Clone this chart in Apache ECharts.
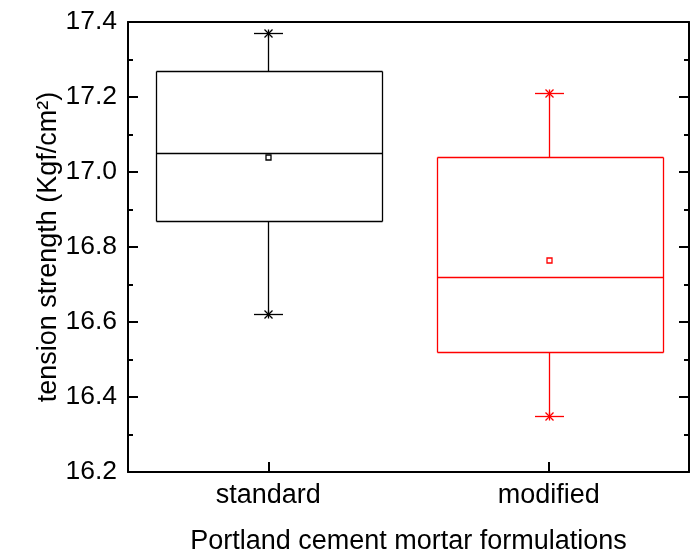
<!DOCTYPE html>
<html>
<head>
<meta charset="utf-8">
<script src="https://cdn.jsdelivr.net/npm/echarts@6/dist/echarts.min.js"></script>
<style>
html,body{margin:0;padding:0;background:#fff;}
#chart{width:693px;height:550px;}
</style>
</head>
<body>
<div id="chart"></div>
<script>
// ---- data ----
const categories = ['standard', 'modified'];
const whiskerLow = [16.62, 16.35];
const q1 = [16.87, 16.52];
const median = [17.05, 16.72];
const q3 = [17.27, 17.04];
const whiskerHigh = [17.37, 17.21];
const means = [17.04, 16.765];
const seriesColors = ['#000000', '#ff0000'];
const yMin = 16.2, yMax = 17.4, yInterval = 0.2;
const xTitle = 'Portland cement mortar formulations';
const yTitle = 'tension strength (Kgf/cm\u00B2)';

const FONT = '"Liberation Sans", Arial, sans-serif';
const chart = echarts.init(document.getElementById('chart'), null, {renderer: 'canvas'});

const boxData = categories.map((c, i) => [i, whiskerLow[i], q1[i], median[i], q3[i], whiskerHigh[i], means[i]]);

function crisp(v) { return Math.round(v) + 0.5; }

function renderItem(params, api) {
  const idx = api.value(0);
  const color = seriesColors[params.dataIndex];
  const cx = crisp(api.coord([idx, yMin])[0]);
  const yv = k => crisp(api.coord([idx, api.value(k)])[1]);
  const yLow = yv(1), yQ1 = yv(2), yMed = yv(3), yQ3 = yv(4), yHigh = yv(5), yMean = yv(6);
  const bw = Math.round(api.size([1, 0])[0] * 0.805);
  const x0 = crisp(cx - bw / 2), x1 = x0 + bw;
  const capHalf = 14.5;
  const mk = () => ({stroke: color, lineWidth: 1.3, fill: 'none'});
  const line = (a, b, c, d) => ({type: 'line', shape: {x1: a, y1: b, x2: c, y2: d}, style: mk()});
  const star = (y) => {
    const s = 4;
    return [
      line(cx - s, y - s, cx + s, y + s),
      line(cx - s, y + s, cx + s, y - s),
      line(cx, y - s, cx, y + s)
    ];
  };
  const children = [
    line(x0, yQ3, x1, yQ3),
    line(x0, yQ1, x1, yQ1),
    line(x0, yQ3, x0, yQ1),
    line(x1, yQ3, x1, yQ1),
    line(x0, yMed, x1, yMed),
    line(cx, yQ3, cx, yHigh),
    line(cx, yQ1, cx, yLow),
    line(cx - capHalf, yHigh, cx + capHalf, yHigh),
    line(cx - capHalf, yLow, cx + capHalf, yLow),
    ...star(yHigh),
    ...star(yLow),
    {type: 'rect', shape: {x: cx - 2.5, y: yMean - 2.5, width: 5, height: 5}, style: mk()}
  ];
  return {type: 'group', children};
}

const axisLineStyle = {color: '#000', width: 2};

chart.setOption({
  animation: false,
  backgroundColor: '#fff',
  grid: {left: 128, right: 4, top: 22, bottom: 78, containLabel: false, outerBoundsMode: 'none'},
  xAxis: [
    {
      type: 'category',
      data: categories,
      boundaryGap: true,
      position: 'bottom',
      axisLine: {show: true, lineStyle: axisLineStyle},
      axisTick: {show: true, inside: true, alignWithLabel: true, length: 10, lineStyle: {color: '#000', width: 2}},
      axisLabel: {color: '#000', fontSize: 27, fontFamily: FONT, margin: 10},
      splitLine: {show: false},
      name: xTitle,
      nameLocation: 'middle',
      nameGap: 56,
      nameMoveOverlap: false,
      nameTextStyle: {color: '#000', fontSize: 27, fontFamily: FONT}
    },
    {
      type: 'category',
      data: categories,
      position: 'top',
      axisLine: {show: true, lineStyle: axisLineStyle},
      axisTick: {show: false},
      axisLabel: {show: false},
      splitLine: {show: false}
    }
  ],
  yAxis: [
    {
      type: 'value',
      min: yMin, max: yMax, interval: yInterval,
      position: 'left',
      axisLine: {show: true, lineStyle: axisLineStyle},
      axisTick: {show: true, inside: true, length: 10, lineStyle: {color: '#000', width: 2}},
      minorTick: {show: true, splitNumber: 2, length: 5, lineStyle: {color: '#000', width: 2}},
      axisLabel: {color: '#000', fontSize: 26.5, fontFamily: FONT, margin: 11, formatter: v => v.toFixed(1)},
      splitLine: {show: false},
      name: yTitle,
      nameLocation: 'middle',
      nameRotate: 90,
      nameGap: 66,
      nameMoveOverlap: false,
      nameTextStyle: {color: '#000', fontSize: 27, fontFamily: FONT}
    },
    {
      type: 'value',
      min: yMin, max: yMax, interval: yInterval,
      position: 'right',
      axisLine: {show: true, lineStyle: axisLineStyle},
      axisTick: {show: true, inside: true, length: 10, lineStyle: {color: '#000', width: 2}},
      minorTick: {show: true, splitNumber: 2, length: 5, lineStyle: {color: '#000', width: 2}},
      axisLabel: {show: false},
      splitLine: {show: false}
    }
  ],
  series: [
    {
      type: 'custom',
      renderItem: renderItem,
      data: boxData,
      encode: {x: 0, y: [1, 2, 3, 4, 5, 6]},
      clip: false
    }
  ]
});
</script>
</body>
</html>
